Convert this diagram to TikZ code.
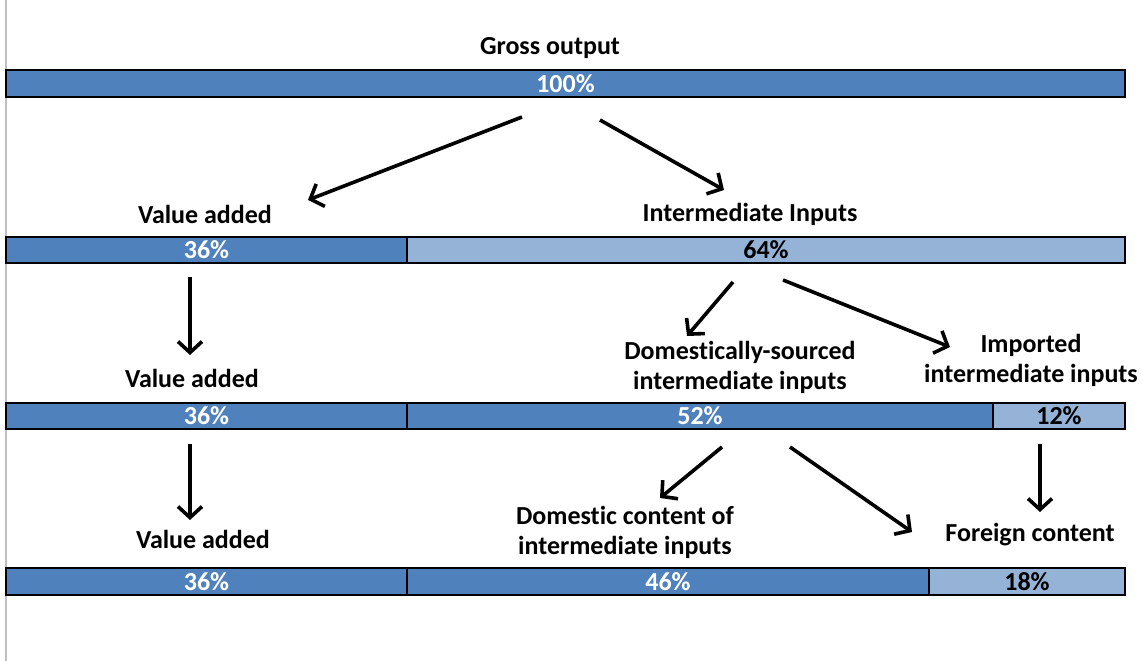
\documentclass[tikz,border=0pt]{standalone}
\usepackage{fontspec}
\setmainfont{Carlito}[Ligatures=NoCommon]
\usetikzlibrary{arrows.meta}
\definecolor{darkb}{HTML}{4F81BD}
\definecolor{lightb}{HTML}{95B3D7}
\definecolor{edge}{HTML}{BFBFBF}
\tikzset{
  seg/.style={draw=black, line width=2.2pt, inner sep=0pt, font=\fontsize{26}{28}\selectfont\bfseries},
  darkseg/.style={seg, fill=darkb, text=white},
  lightseg/.style={seg, fill=lightb, text=black},
  lab/.style={font=\fontsize{26}{30}\selectfont\bfseries, align=center, inner sep=0pt, text=black},
  arr/.style={line width=3.6pt, -{Straight Barb[length=11pt,width=24pt,line width=3.6pt]}}
}
\begin{document}
\begin{tikzpicture}[x=1pt,y=-1pt]
\useasboundingbox (0,0) rectangle (1143,661);
\draw[edge, line width=1.8pt] (6,0) -- (6,661);
% row 1
\node[lab] (go) at (550,48) {Gross output};
\node[darkseg, minimum width=1119pt, minimum height=27pt] (b1) at (565.5,83.5) {100\%};
% row 2
\node[lab] (va1) at (205,214) {Value added};
\node[lab] (ii) at (750,214) {Intermediate Inputs};
\node[darkseg, minimum width=401pt, minimum height=26pt] (b2a) at (206.5,250) {36\%};
\node[lightseg, minimum width=718pt, minimum height=26pt] (b2b) at (766,250) {64\%};
% row 3
\node[lab] (va2) at (192,378) {Value added};
\node[lab] (dsi) at (740,367) {Domestically-sourced\\intermediate inputs};
\node[lab] (imp) at (1031,360) {Imported\\intermediate inputs};
\node[darkseg, minimum width=401pt, minimum height=26pt] (b3a) at (206.5,416) {36\%};
\node[darkseg, minimum width=586pt, minimum height=26pt] (b3b) at (700,416) {52\%};
\node[lightseg, minimum width=132pt, minimum height=26pt] (b3c) at (1059,416) {12\%};
% row 4
\node[lab] (va3) at (203,539) {Value added};
\node[lab] (dci) at (625,532) {Domestic content of\\intermediate inputs};
\node[lab] (fc) at (1030,535) {Foreign content};
\node[darkseg, minimum width=401pt, minimum height=27pt] (b4a) at (206.5,581.5) {36\%};
\node[darkseg, minimum width=522pt, minimum height=27pt] (b4b) at (668,581.5) {46\%};
\node[lightseg, minimum width=196pt, minimum height=27pt] (b4c) at (1027,581.5) {18\%};
% arrow end points
\coordinate (s1) at (522,117); \coordinate (e1) at (308,200);
\coordinate (s2) at (600,120); \coordinate (e2) at (724,190);
\coordinate (s3) at (190,277); \coordinate (e3) at (190,355);
\coordinate (s4) at (733,282); \coordinate (e4) at (687,336);
\coordinate (s5) at (783,280); \coordinate (e5) at (950,347);
\coordinate (s6) at (190,444); \coordinate (e6) at (190,520);
\coordinate (s7) at (722,447); \coordinate (e7) at (660,498);
\coordinate (s8) at (790,447); \coordinate (e8) at (912,532);
\coordinate (s9) at (1040,444); \coordinate (e9) at (1040,512);
\foreach \i in {1,...,9} { \draw[arr] (s\i) -- (e\i); }
\end{tikzpicture}
\end{document}
